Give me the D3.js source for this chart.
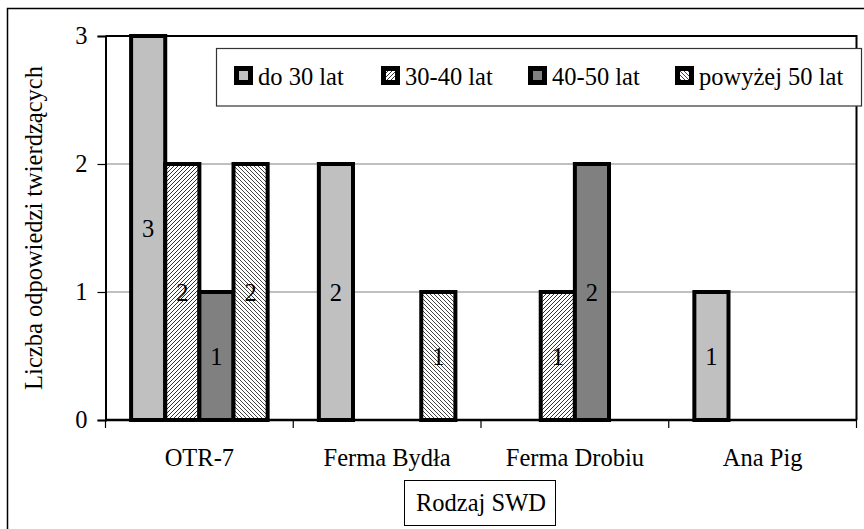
<!DOCTYPE html>
<html>
<head>
<meta charset="utf-8">
<script src="https://cdn.jsdelivr.net/npm/d3@7"></script>
<style>
  html, body { margin: 0; padding: 0; background: #fff; }
  svg { display: block; }
</style>
</head>
<body>
<svg id="chart" width="864" height="529"></svg>
<script>
// Survey answers by SWD type and respondent age group
const categories = ["OTR-7", "Ferma Bydła", "Ferma Drobiu", "Ana Pig"];
const seriesNames = ["do 30 lat", "30-40 lat", "40-50 lat", "powyżej 50 lat"];
const under30 = [3, 2, 0, 1];
const age30to40 = [2, 0, 1, 0];
const age40to50 = [1, 0, 2, 0];
const over50 = [2, 1, 0, 0];
const yTicks = [0, 1, 2, 3];
const yTitle = "Liczba odpowiedzi twierdzących";
const xTitle = "Rodzaj SWD";

const seriesValues = [under30, age30to40, age40to50, over50];

const FONT = "'Times New Roman', 'Liberation Serif', 'DejaVu Serif', serif";
const fontSize = 24.5;

const svg = d3.select("#chart")
  .attr("font-family", FONT);

// fills: solid greys and two diagonal hatches
const defs = svg.append("defs");
function hatch(id, dir, width, color) {
  const p = defs.append("pattern")
    .attr("id", id).attr("patternUnits", "userSpaceOnUse")
    .attr("width", 4).attr("height", 4);
  p.append("rect").attr("width", 4).attr("height", 4).attr("fill", "#fff");
  const d = dir > 0
    ? "M-1,1 l2,-2 M0,4 l4,-4 M3,5 l2,-2"
    : "M-1,3 l2,2 M0,0 l4,4 M3,-1 l2,2";
  p.append("path").attr("d", d).attr("stroke", color)
    .attr("stroke-width", width);
}
hatch("hUp", 1, 1.0, "#333");
hatch("hDown", -1, 1.0, "#444");
const fills = ["#c0c0c0", "url(#hUp)", "#808080", "url(#hDown)"];

// outer chart frame (runs past the right and bottom edges)
svg.append("rect").attr("x", 7.5).attr("y", 8.5)
  .attr("width", 900).attr("height", 600)
  .attr("fill", "none").attr("stroke", "#000").attr("stroke-width", 1.5);

const plot = { left: 105.5, right: 856.5, top: 36, bottom: 420 };

const x0 = d3.scaleBand().domain(categories).range([plot.left, plot.right]).paddingInner(0).paddingOuter(0);
const bw = x0.bandwidth() / 5.5;
const x1 = d3.scaleBand().domain(seriesNames)
  .range([0.75 * bw, 4.75 * bw]).padding(0);
const y = d3.scaleLinear().domain([0, 3]).range([plot.bottom, plot.top]);

// gridlines
svg.append("g").selectAll("line").data(yTicks.filter(t => t > 0 && t < 3)).join("line")
  .attr("x1", plot.left).attr("x2", plot.right)
  .attr("y1", d => y(d)).attr("y2", d => y(d))
  .attr("stroke", "#808080").attr("stroke-width", 1.2);

// plot frame top and right
svg.append("path")
  .attr("d", `M${plot.left},${plot.top}H${plot.right}V${plot.bottom}`)
  .attr("fill", "none").attr("stroke", "#000").attr("stroke-width", 2);

// bars
const rows = [];
categories.forEach((c, ci) => seriesNames.forEach((s, si) => {
  const v = seriesValues[si][ci];
  if (v > 0) rows.push({ c, s, si, v });
}));

const bars = svg.append("g");
bars.selectAll("rect").data(rows).join("rect")
  .attr("x", d => x0(d.c) + x1(d.s))
  .attr("width", x1.bandwidth())
  .attr("y", d => y(d.v))
  .attr("height", d => y(0) - y(d.v))
  .attr("fill", d => fills[d.si])
  .attr("stroke", "#000").attr("stroke-width", 4);

// value labels at bar centre
bars.selectAll("text").data(rows).join("text")
  .attr("x", d => x0(d.c) + x1(d.s) + x1.bandwidth() / 2)
  .attr("y", d => (y(d.v) + y(0)) / 2)
  .attr("dy", "0.35em")
  .attr("text-anchor", "middle")
  .attr("font-family", FONT)
  .attr("font-size", fontSize)
  .text(d => d.v);

// y axis
const yAxis = svg.append("g").attr("transform", `translate(${plot.left},0)`)
  .call(d3.axisLeft(y).tickValues(yTicks).tickFormat(d3.format("d")).tickSize(8).tickPadding(10))
  .attr("font-family", FONT).attr("font-size", fontSize);
yAxis.select(".domain").attr("stroke-width", 2);
yAxis.selectAll(".tick line").attr("stroke-width", 1.2);
yAxis.selectAll("text").attr("fill", "#000");

// x axis
const tickPos = categories.map(c => x0(c)).concat([plot.right]);
const xAxis = svg.append("g").attr("transform", `translate(0,${plot.bottom})`);
xAxis.append("line").attr("x1", plot.left).attr("x2", plot.right)
  .attr("stroke", "#000").attr("stroke-width", 2.5);
xAxis.selectAll("line.t").data(tickPos).join("line").attr("class", "t")
  .attr("x1", d => d).attr("x2", d => d).attr("y1", 0).attr("y2", 8)
  .attr("stroke", "#000").attr("stroke-width", 1.2);
xAxis.selectAll("text").data(categories).join("text")
  .attr("x", d => x0(d) + x0.bandwidth() / 2)
  .attr("y", 46)
  .attr("text-anchor", "middle")
  .attr("font-family", FONT)
  .attr("font-size", fontSize)
  .text(d => d);

// axis titles
svg.append("text")
  .attr("transform", `translate(42,${(plot.top + plot.bottom) / 2}) rotate(-90)`)
  .attr("text-anchor", "middle")
  .attr("font-family", FONT)
  .attr("font-size", fontSize)
  .text(yTitle);

const xMid = (plot.left + plot.right) / 2;
svg.append("rect").attr("x", xMid - 76.5).attr("y", 480.5)
  .attr("width", 151).attr("height", 45)
  .attr("fill", "#fff").attr("stroke", "#000").attr("stroke-width", 1);
svg.append("text").attr("x", xMid).attr("y", 511)
  .attr("text-anchor", "middle")
  .attr("font-family", FONT)
  .attr("font-size", fontSize).text(xTitle);

// legend
const legend = svg.append("g");
legend.append("rect").attr("x", 216.5).attr("y", 48.5)
  .attr("width", 645).attr("height", 57.5)
  .attr("fill", "#fff").attr("stroke", "#333").attr("stroke-width", 1.2);
const legendX = d3.scalePoint().domain(seriesNames).range([234, 675]);
const items = legend.selectAll("g").data(seriesNames).join("g")
  .attr("transform", d => `translate(${legendX(d)},66)`);
items.append("rect").attr("x", 2.5).attr("y", 2.5).attr("width", 14).attr("height", 14)
  .attr("fill", (d, i) => fills[i]).attr("stroke", "#000").attr("stroke-width", 5);
items.append("text").attr("x", 24).attr("y", 19)
  .attr("font-family", FONT)
  .attr("font-size", fontSize).text(d => d);
</script>
</body>
</html>
